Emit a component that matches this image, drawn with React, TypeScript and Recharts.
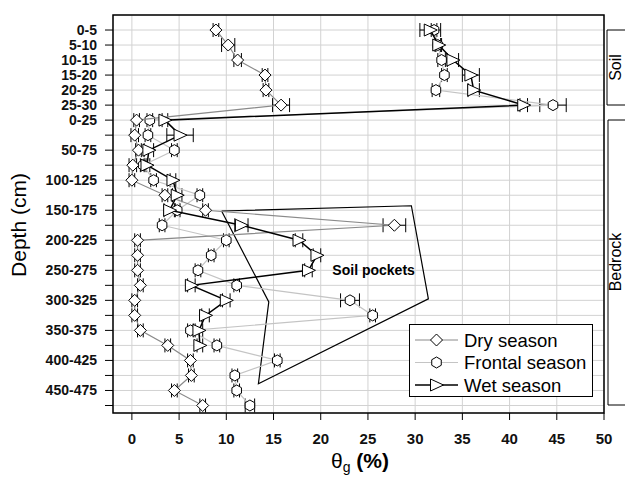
import React from 'react';
import { ComposedChart, Scatter, XAxis, YAxis, CartesianGrid, ErrorBar, ReferenceArea, ReferenceDot, Legend } from 'recharts';

// depth rows, top to bottom (soil first, then bedrock)
const depthLabels = [
  '0-5', '5-10', '10-15', '15-20', '20-25', '25-30',
  '0-25', '', '50-75', '', '100-125', '', '150-175', '', '200-225', '',
  '250-275', '', '300-325', '', '350-375', '', '400-425', '', '450-475', '',
];

const drySeason = [8.9, 10.2, 11.2, 14.1, 14.2, 15.8, 0.5, 0.3, 0.7, 0.1, 0.0, 3.5, 7.8, 27.8, 0.6, 0.6, 0.6, 0.9, 0.3, 0.3, 0.9, 3.8, 6.2, 6.3, 4.5, 7.5];
const dryErr = [0.3, 0.7, 0.4, 0.3, 0.3, 0.9, 0.3, 0.4, 0.3, 0.4, 0.3, 0.3, 0.3, 1.2, 0.3, 0.3, 0.3, 0.3, 0.3, 0.3, 0.3, 0.3, 0.3, 0.3, 0.3, 0.3];

const frontalSeason = [32.0, 32.4, 32.8, 33.1, 32.2, 44.6, 1.9, 1.7, 4.5, 1.2, 2.3, 7.2, 4.8, 3.2, 10.0, 8.4, 7.0, 11.1, 23.1, 25.5, 6.2, 9.0, 15.4, 10.9, 11.1, 12.5];
const frontalErr = [0.3, 0.3, 0.4, 0.3, 0.4, 1.4, 0.3, 0.3, 0.3, 0.3, 0.3, 0.3, 0.3, 0.3, 0.3, 0.3, 0.3, 0.3, 1.0, 0.3, 0.3, 0.3, 0.3, 0.3, 0.3, 0.5];

const wetSeason = [31.6, 32.5, 34.0, 35.9, 36.2, 41.5, 3.5, 5.1, 1.8, 1.6, 4.35, 4.8, 4.0, 11.6, 17.7, 19.6, 18.7, 6.3, 10.0, 7.8, 7.1, 7.2];
const wetErr = [1.1, 0.3, 0.6, 0.9, 0.6, 0.4, 0.3, 1.4, 0.5, 0.3, 0.3, 0.5, 0.6, 0.7, 0.4, 0.4, 0.4, 0.4, 0.4, 0.4, 0.4, 0.3];

// "Soil pockets" outline (θg, row)
const pocketX = [9.5, 29.6, 31.4, 13.4, 14.5, 9.5];
const pocketY = [12.05, 11.7, 17.9, 23.55, 18.1, 12.05];

const xTicks = [0, 5, 10, 15, 20, 25, 30, 35, 40, 45, 50];
const seriesNames = ['Dry season', 'Frontal season', 'Wet season'];

const FONT = "'Liberation Sans', Arial, sans-serif";
const rowTicks = depthLabels.map((_, i) => i);

const toPoints = (vals: number[], errs: number[]) => vals.map((v, i) => ({ x: v, y: i, err: errs[i] }));
const dryData = toPoints(drySeason, dryErr);
const frontalData = toPoints(frontalSeason, frontalErr);
const wetData = toPoints(wetSeason, wetErr);
const pocketData = pocketX.map((x, i) => ({ x, y: pocketY[i] }));

const Diamond = ({ cx, cy }: any) => (
  <path d={`M${cx},${cy - 6}L${cx + 6},${cy}L${cx},${cy + 6}L${cx - 6},${cy}Z`} fill="#fff" stroke="#000" strokeWidth={1} />
);

const Hexagon = ({ cx, cy }: any) => {
  const r = 5.5;
  const pts = [0, 1, 2, 3, 4, 5].map(k => {
    const a = (Math.PI / 3) * k - Math.PI / 2;
    return `${cx + r * Math.cos(a)},${cy + r * Math.sin(a)}`;
  });
  return <polygon points={pts.join(' ')} fill="#fff" stroke="#000" strokeWidth={1} />;
};

const Triangle = ({ cx, cy }: any) => (
  <path d={`M${cx - 6},${cy - 6}L${cx + 7},${cy}L${cx - 6},${cy + 6}Z`} fill="#fff" stroke="#000" strokeWidth={1} />
);

const Nothing = () => <g />;

const LegendBox = () => {
  const rows = [
    { name: seriesNames[0], stroke: '#8a8a8a', w: 1, Mark: Diamond },
    { name: seriesNames[1], stroke: '#c4c4c4', w: 1, Mark: Hexagon },
    { name: seriesNames[2], stroke: '#000', w: 1.5, Mark: Triangle },
  ];
  return (
    <svg width={184} height={73} style={{ display: 'block' }}>
      <rect x={0.5} y={0.5} width={183} height={72} fill="#fff" stroke="#000" strokeWidth={1} />
      {rows.map((r, i) => {
        const cy = 16 + i * 22.5;
        return (
          <g key={r.name}>
            <line x1={6} x2={49} y1={cy} y2={cy} stroke={r.stroke} strokeWidth={r.w} />
            <r.Mark cx={27.5} cy={cy} />
            <text x={55} y={cy + 6.5} fontSize={18.5} fontFamily={FONT} fill="#000">{r.name}</text>
          </g>
        );
      })}
    </svg>
  );
};

export default function App() {
  return (
    <div style={{ position: 'absolute', left: 0, top: 0, width: 625, height: 478, background: '#fff' }}>
      <ComposedChart width={625} height={478} margin={{ top: 15, right: 0, bottom: 0, left: 0 }}>
        <CartesianGrid stroke="#d2d2d2" strokeWidth={1} />
        <XAxis
          type="number"
          dataKey="x"
          domain={[-2, 50]}
          ticks={xTicks}
          interval={0}
          allowDataOverflow
          height={65}
          tickSize={7}
          tickMargin={13}
          axisLine={false}
          tickLine={{ stroke: '#000' }}
          tick={{ fill: '#111', fontSize: 15, fontWeight: 'bold', fontFamily: FONT }}
          label={{
            content: () => (
              <text x={360} y={468} textAnchor="middle" fontFamily={FONT} fontSize={21} fill="#000">
                <tspan>θ</tspan>
                <tspan fontSize={14} dy={4}>g</tspan>
                <tspan dy={-4} fontWeight="bold"> (%)</tspan>
              </text>
            ),
          }}
        />
        <YAxis
          type="number"
          dataKey="y"
          domain={[-1, 25.5]}
          reversed
          ticks={rowTicks}
          interval={0}
          allowDataOverflow
          width={113}
          tickSize={8}
          tickMargin={8}
          axisLine={false}
          tickLine={{ stroke: '#000' }}
          tickFormatter={(i: number) => depthLabels[i] ?? ''}
          tick={{ fill: '#111', fontSize: 14, fontWeight: 'bold', fontFamily: FONT }}
          label={{
            content: () => (
              <text x={26} y={225} transform="rotate(-90 26 225)" textAnchor="middle" fontFamily={FONT} fontSize={21} fill="#000">
                Depth (cm)
              </text>
            ),
          }}
        />
        <YAxis
          yAxisId="right"
          orientation="right"
          type="number"
          domain={[-1, 25.5]}
          reversed
          ticks={rowTicks}
          interval={0}
          width={21}
          tickSize={3}
          tick={false}
          axisLine={false}
          tickLine={{ stroke: '#000' }}
        />
        <ReferenceArea x1={-2} x2={50} y1={-1} y2={25.5} fill="none" stroke="#000" strokeWidth={1.5} ifOverflow="visible" />

        <Scatter name="pockets" data={pocketData} shape={Nothing} line={{ stroke: '#000', strokeWidth: 1.2 }} isAnimationActive={false} legendType="none" />

        <Scatter name={seriesNames[1]} data={frontalData} shape={Hexagon} line={{ stroke: '#c4c4c4', strokeWidth: 1.2 }} isAnimationActive={false} />
        <Scatter name={seriesNames[0]} data={dryData} shape={Diamond} line={{ stroke: '#8a8a8a', strokeWidth: 1.2 }} isAnimationActive={false} />
        <Scatter name={seriesNames[2]} data={wetData} shape={Triangle} line={{ stroke: '#000', strokeWidth: 1.5 }} isAnimationActive={false} />

        {/* error bars on top of the symbols */}
        <Scatter data={frontalData} shape={Nothing} isAnimationActive={false} legendType="none">
          <ErrorBar dataKey="err" direction="x" width={7} stroke="#000" strokeWidth={1} />
        </Scatter>
        <Scatter data={dryData} shape={Nothing} isAnimationActive={false} legendType="none">
          <ErrorBar dataKey="err" direction="x" width={7} stroke="#000" strokeWidth={1} />
        </Scatter>
        <Scatter data={wetData} shape={Nothing} isAnimationActive={false} legendType="none">
          <ErrorBar dataKey="err" direction="x" width={7} stroke="#000" strokeWidth={1} />
        </Scatter>

        <ReferenceDot
          x={25.6}
          y={16.3}
          isFront
          shape={(p: any) => (
            <text x={p.cx} y={p.cy} textAnchor="middle" fontFamily={FONT} fontSize={14} fontWeight="bold" fill="#000">
              Soil pockets
            </text>
          )}
        />

        <Legend
          layout="vertical"
          align="center"
          verticalAlign="middle"
          content={() => <LegendBox />}
          wrapperStyle={{ position: 'absolute', left: 409, top: 324, width: 184, height: 73 }}
        />
      </ComposedChart>

      <svg width={625} height={478} style={{ position: 'absolute', left: 0, top: 0, pointerEvents: 'none' }}>
        <path d="M640,30 H607 V105 H640" fill="none" stroke="#000" strokeWidth={1} />
        <text x={621} y={67.5} transform="rotate(-90 621 67.5)" textAnchor="middle" fontFamily={FONT} fontSize={16} fill="#000">Soil</text>
        <path d="M640,120 H608 V405 H640" fill="none" stroke="#000" strokeWidth={1} />
        <text x={621} y={262} transform="rotate(-90 621 262)" textAnchor="middle" fontFamily={FONT} fontSize={16} fill="#000">Bedrock</text>
      </svg>
    </div>
  );
}
